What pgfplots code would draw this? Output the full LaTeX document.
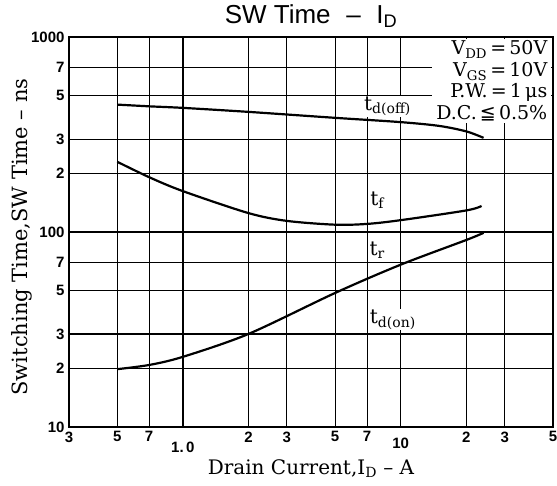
\documentclass[border=0pt]{standalone}
\usepackage{fontspec}
\setmainfont{DejaVu Serif}
\setsansfont{Liberation Sans}
\newfontfamily\symfont{DejaVu Sans}
\usepackage{pgfplots}
\pgfplotsset{compat=1.18}
\begin{document}
\begin{tikzpicture}
\useasboundingbox (-69pt,-59pt) rectangle (488pt,427pt);
\begin{axis}[
  at={(0pt,0pt)}, anchor=south west,
  width=484pt, height=390pt, scale only axis,
  xmode=log, ymode=log,
  xmin=0.3, xmax=50, ymin=10, ymax=1000,
  xtick={0.3,0.5,0.7,1,2,3,5,7,10,20,30,50},
  xticklabels={3,5,7,{\rule{0pt}{21pt}1.\,0},2,3,5,7,{\rule{0pt}{17pt}10},2,3,5},
  ytick={10,20,30,50,70,100,200,300,500,700,1000},
  yticklabels={10,2,3,5,7,100,2,3,5,7,1000},
  minor xtick={}, minor ytick={},
  grid=major,
  major grid style={black, line width=0.9pt},
  axis line style={black, line width=1.6pt},
  tick style={draw=none},
  extra x ticks={0.5,1,10}, extra x tick labels={},
  extra x tick style={grid=major, major grid style={black, line width=1.5pt}},
  extra y ticks={30,100}, extra y tick labels={},
  extra y tick style={grid=major, major grid style={black, line width=1.7pt}},
  xticklabel style={font=\sffamily\bfseries\fontsize{15}{15}\selectfont, yshift=-1pt},
  yticklabel style={font=\sffamily\bfseries\fontsize{15}{15}\selectfont, xshift=-1pt},
  title={SW Time\hspace{0.6em}--\hspace{0.6em}I\textsubscript{D}},
  title style={font=\sffamily\fontsize{26}{26}\selectfont, at={(axis description cs:0.5,1)}, anchor=base, yshift=7pt},
  xlabel={Drain Current,I\textsubscript{D} -- A},
  xlabel style={font=\fontsize{20}{20}\selectfont, at={(axis description cs:0.5,0)}, anchor=center, yshift=-42pt},
  ylabel={Switching Time,SW Time -- ns},
  ylabel style={font=\fontsize{21}{21}\selectfont, at={(axis description cs:-0.097,0.487)}, anchor=center},
]
% t_d(off)
\addplot[black, line width=2.2pt, smooth] coordinates {
  (0.5,450) (0.7,441) (1,433) (2,413) (5,385) (10,366) (15,350) (20,328) (24,304)
};
% t_f
\addplot[black, line width=2.2pt, smooth] coordinates {
  (0.5,229) (0.7,191) (1,162) (2,125) (3,114) (5,109) (7,110) (10,115) (20,129) (23.5,136)
};
% t_r
\addplot[black, line width=2.2pt, smooth] coordinates {
  (0.5,19.8) (0.7,20.8) (1,22.9) (2,30) (5,48.7) (10,68) (20,91) (24,99)
};
% t_d(on)
\addplot[black, line width=2.2pt] coordinates {
  (0.3,30) (50,30)
};
\node[fill=white, inner sep=1pt, font=\fontsize{20}{20}\selectfont] at (axis cs:8.7,440) {t\textsubscript{d(off)}};
\node[fill=white, inner sep=1pt, font=\fontsize{20}{20}\selectfont] at (axis cs:7.8,146) {t\textsubscript{f}};
\node[fill=white, inner sep=1pt, font=\fontsize{20}{20}\selectfont] at (axis cs:7.8,81) {t\textsubscript{r}};
\node[fill=white, inner sep=1pt, font=\fontsize{20}{20}\selectfont] at (axis cs:9.2,35.5) {t\textsubscript{d(on)}};
\node[fill=white, anchor=north east, align=right, inner xsep=4pt, inner ysep=2pt,
      font=\fontsize{19}{21.5}\selectfont] at ([xshift=-1.5pt,yshift=-1.5pt]rel axis cs:1,1)
  {V\textsubscript{DD}\,=\,50V\\ V\textsubscript{GS}\,=\,10V\\ P.W.\,=\,1\,μs\\ D.C.\,{\symfont ≦}\,0.5\%};
\end{axis}
\end{tikzpicture}
\end{document}
